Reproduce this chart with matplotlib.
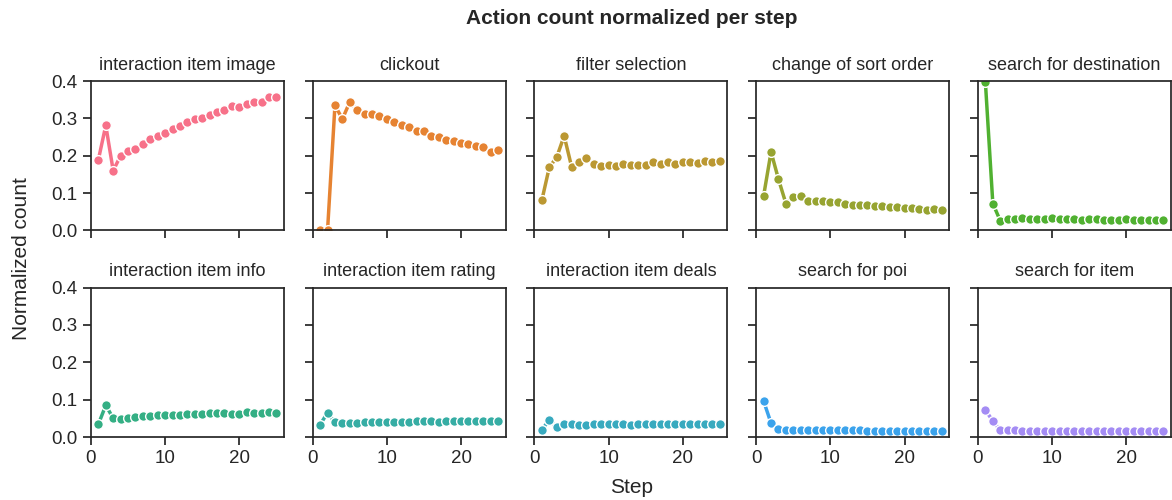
import matplotlib
matplotlib.use("Agg")
import matplotlib.pyplot as plt
import seaborn as sns

sns.set_theme(style="ticks")
plt.rcParams['font.family'] = ['Liberation Sans', 'DejaVu Sans']

steps = list(range(1, 26))

actions = [
    "interaction item image", "clickout", "filter selection",
    "change of sort order", "search for destination",
    "interaction item info", "interaction item rating",
    "interaction item deals", "search for poi", "search for item",
]

item_image = [0.189, 0.281, 0.160, 0.200, 0.213, 0.219, 0.232, 0.244, 0.252, 0.261,
              0.272, 0.280, 0.289, 0.298, 0.302, 0.309, 0.317, 0.323, 0.332, 0.330,
              0.339, 0.345, 0.344, 0.358, 0.356]
clickout = [0.0, 0.0, 0.335, 0.298, 0.344, 0.322, 0.311, 0.312, 0.307, 0.299,
            0.289, 0.283, 0.277, 0.266, 0.266, 0.254, 0.250, 0.241, 0.240, 0.233,
            0.230, 0.225, 0.222, 0.210, 0.214]
filter_sel = [0.081, 0.169, 0.196, 0.253, 0.171, 0.182, 0.195, 0.178, 0.173, 0.175,
              0.173, 0.177, 0.176, 0.175, 0.175, 0.182, 0.179, 0.182, 0.179, 0.182,
              0.182, 0.181, 0.186, 0.183, 0.186]
sort_order = [0.093, 0.210, 0.137, 0.072, 0.089, 0.092, 0.079, 0.079, 0.078, 0.075,
              0.075, 0.071, 0.068, 0.068, 0.067, 0.064, 0.064, 0.063, 0.062, 0.059,
              0.061, 0.058, 0.055, 0.057, 0.055]
destination = [0.396, 0.072, 0.026, 0.030, 0.031, 0.033, 0.031, 0.031, 0.031, 0.032,
               0.031, 0.031, 0.030, 0.029, 0.030, 0.031, 0.029, 0.028, 0.029, 0.031,
               0.027, 0.027, 0.028, 0.027, 0.028]
item_info = [0.034, 0.085, 0.050, 0.049, 0.051, 0.054, 0.055, 0.057, 0.058, 0.059,
             0.059, 0.060, 0.061, 0.062, 0.062, 0.063, 0.063, 0.063, 0.062, 0.062,
             0.066, 0.064, 0.064, 0.066, 0.065]
item_rating = [0.033, 0.065, 0.039, 0.038, 0.038, 0.038, 0.039, 0.039, 0.041, 0.041,
               0.040, 0.040, 0.040, 0.043, 0.042, 0.042, 0.041, 0.043, 0.042, 0.042,
               0.042, 0.044, 0.042, 0.044, 0.043]
item_deals = [0.019, 0.046, 0.026, 0.034, 0.034, 0.033, 0.033, 0.034, 0.035, 0.035,
              0.035, 0.034, 0.033, 0.035, 0.034, 0.034, 0.035, 0.034, 0.034, 0.034,
              0.034, 0.034, 0.035, 0.034, 0.035]
poi = [0.096, 0.037, 0.021, 0.019, 0.019, 0.019, 0.018, 0.018, 0.018, 0.018,
       0.018, 0.018, 0.018, 0.018, 0.017, 0.017, 0.017, 0.017, 0.017, 0.017,
       0.017, 0.016, 0.017, 0.017, 0.016]
search_item = [0.072, 0.043, 0.018, 0.018, 0.018, 0.017, 0.017, 0.017, 0.017, 0.017,
               0.017, 0.017, 0.017, 0.016, 0.017, 0.017, 0.016, 0.016, 0.016, 0.016,
               0.016, 0.016, 0.016, 0.016, 0.015]

values = [item_image, clickout, filter_sel, sort_order, destination,
          item_info, item_rating, item_deals, poi, search_item]

# palette spans 12 hues, only the first 10 are used
colors = sns.color_palette("husl", 12)[:len(actions)]

fig, axes = plt.subplots(2, 5, figsize=(11.72, 5), dpi=100, sharex=True, sharey=True)
fig.subplots_adjust(left=0.0776, right=0.999, top=0.838, bottom=0.126,
                    wspace=0.15, hspace=0.383)

for ax, name, vals, col in zip(axes.flat, actions, values, colors):
    ax.plot(steps, vals, color=col, linewidth=2.5, marker="o", markersize=7,
            markeredgecolor="white", markeredgewidth=1)
    ax.set_title(name, fontsize=13, pad=8)
    ax.tick_params(labelsize=13.5)

axes[0, 0].set_xlim(0, 26)
axes[0, 0].set_ylim(0, 0.4)
axes[0, 0].set_yticks([0, 0.1, 0.2, 0.3, 0.4])
axes[0, 0].set_xticks([0, 10, 20])

fig.text(0.539, 0.962, "Action count normalized per step", ha="center", va="center",
         fontsize=15, fontweight="bold")
fig.text(0.539, 0.025, "Step", ha="center", va="center", fontsize=15)
fig.text(0.018, 0.483, "Normalized count", ha="center", va="center",
         rotation=90, fontsize=15)

plt.savefig("out.png")
